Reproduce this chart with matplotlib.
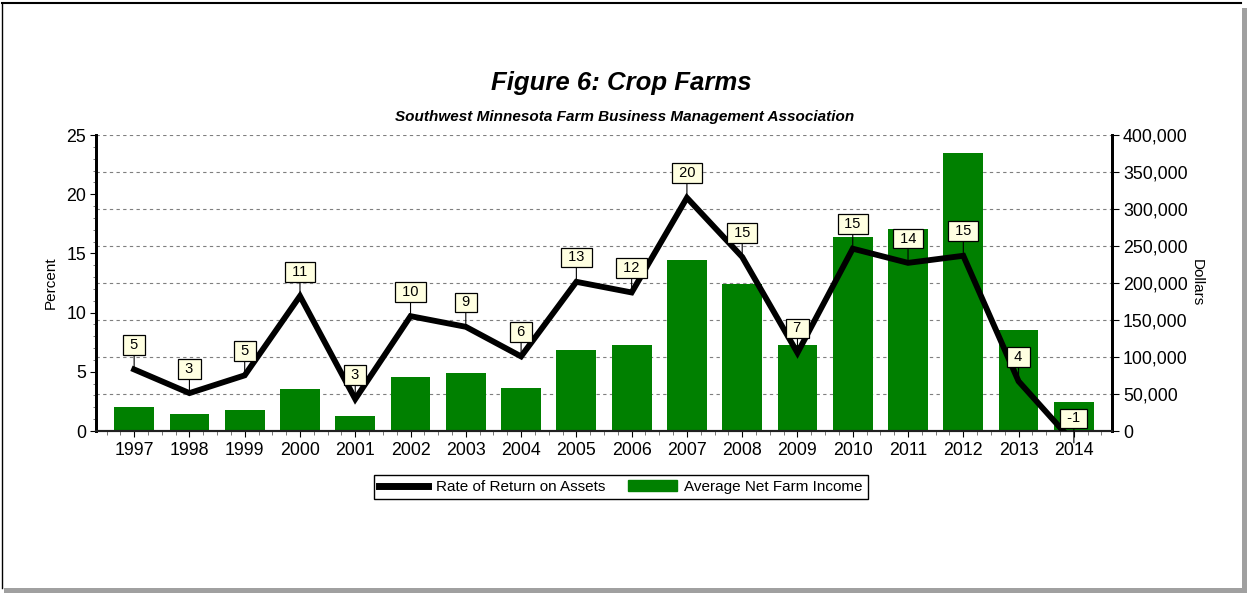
#!/usr/bin/env python3
"""
Crop farms: rate of return on assets vs. average net farm income, 1997-2014.
"""

import matplotlib
matplotlib.use('Agg')
import matplotlib.pyplot as plt
from matplotlib.ticker import MultipleLocator, FuncFormatter
from matplotlib.lines import Line2D
from matplotlib.patches import Patch, Rectangle

years = ['1997', '1998', '1999', '2000', '2001', '2002', '2003', '2004', '2005',
         '2006', '2007', '2008', '2009', '2010', '2011', '2012', '2013', '2014']

# Rate of return on assets (percent)
rate_of_return = [5.2, 3.2, 4.7, 11.4, 2.7, 9.7, 8.8, 6.3, 12.6,
                  11.7, 19.7, 14.7, 6.6, 15.4, 14.2, 14.8, 4.2, -1.0]

# Average net farm income (dollars)
net_income = [32500, 23000, 28500, 56500, 20500, 73000, 78500, 58000, 109500,
              116000, 231000, 198500, 116000, 262000, 273000, 375500, 136500, 39000]

BAR_GREEN = '#008000'

plt.rcParams['font.family'] = ['Liberation Sans', 'DejaVu Sans']

fig = plt.figure(figsize=(12.47, 5.93), dpi=100)
W, H = 1247, 593

# axes box in pixels: x 96..1112, y 135..431
ax = fig.add_axes([96 / W, 1 - 431 / H, (1112 - 96) / W, (431 - 135) / H])
ax2 = ax.twinx()

x = list(range(len(years)))

# bars (dollars) on the right axis
ax2.bar(x, net_income, width=0.72, color=BAR_GREEN, zorder=2)
ax2.set_ylim(0, 400000)
ax2.yaxis.set_major_locator(MultipleLocator(50000))
ax2.yaxis.set_major_formatter(FuncFormatter(lambda v, p: f'{int(v):,}'))
ax2.set_axisbelow(True)
ax2.grid(axis='y', color='#7f7f7f', linestyle=(0, (3, 3)), linewidth=0.8)
ax2.set_ylabel('Dollars', rotation=-90, fontsize=11, va='center', ha='center')
ax2.yaxis.set_label_coords((1197 - 96) / 1016, 0.5)

# line (percent) on the left axis, drawn above the bars
ax.set_zorder(ax2.get_zorder() + 1)
ax.patch.set_visible(False)
ax.plot(x, rate_of_return, color='black', linewidth=4.2, solid_joinstyle='miter',
        zorder=3)
ax.set_ylim(0, 25)
ax.set_xlim(-0.69, len(years) - 1 + 0.69)
ax.yaxis.set_major_locator(MultipleLocator(5))
ax.yaxis.set_minor_locator(MultipleLocator(1))
ax.set_ylabel('Percent', fontsize=11, labelpad=6)

ax.set_xticks(x)
ax.set_xticklabels(years)
ax.xaxis.set_minor_locator(MultipleLocator(0.25))

# value labels
for xi, v in zip(x, rate_of_return):
    ax.annotate(f' {v:.0f} ', xy=(xi, v), xytext=(0, 12.5), textcoords='offset points',
                ha='center', va='bottom', fontsize=10.5, annotation_clip=False,
                bbox=dict(boxstyle='square,pad=0.2', facecolor='#ffffe1',
                          edgecolor='black', linewidth=0.9),
                arrowprops=dict(arrowstyle='-', color='black', linewidth=0.8,
                                shrinkA=0, shrinkB=0),
                zorder=5)

for a in (ax, ax2):
    a.spines['top'].set_visible(False)
    a.spines['left'].set_linewidth(2)
    a.spines['right'].set_linewidth(2)
    a.spines['bottom'].set_linewidth(1.5)
    a.spines['bottom'].set_color('#202020')
    a.tick_params(labelsize=12.8)

ax.tick_params(axis='y', which='major', length=4, width=0.8, pad=3)
ax.tick_params(axis='y', which='minor', length=2.5, width=0.6, color='#606060')
ax.tick_params(axis='x', which='major', length=4, width=0.8, pad=4)
ax.tick_params(axis='x', which='minor', length=3, width=0.6, color='#606060')
ax2.tick_params(axis='y', which='major', length=5, width=0.8, pad=3)

# titles
fig.text(621 / W, 1 - 83 / H, 'Figure 6: Crop Farms', ha='center', va='center',
         fontsize=18.5, fontweight='bold', fontstyle='italic')
fig.text(625 / W, 1 - 117 / H, 'Southwest Minnesota Farm Business Management Association',
         ha='center', va='center', fontsize=11, fontweight='bold', fontstyle='italic')

# legend
handles = [Line2D([0], [0], color='black', linewidth=5),
           Patch(facecolor=BAR_GREEN, edgecolor=BAR_GREEN)]
fig.legend(handles, ['Rate of Return on Assets', 'Average Net Farm Income'],
           loc='center', bbox_to_anchor=(621 / W, 1 - 487 / H), ncol=2,
           fontsize=11, frameon=True, fancybox=False, edgecolor='black',
           framealpha=1, borderpad=0.3, handlelength=3.2, columnspacing=1.5,
           handletextpad=0.5)

# frame around the chart with a grey drop shadow
fig.patches.append(Rectangle((1242 / W, 0), 5 / W, 1 - 8 / H, transform=fig.transFigure,
                             facecolor='#a0a0a0', edgecolor='none'))
fig.patches.append(Rectangle((4 / W, 0), 1 - 4 / W, 5 / H, transform=fig.transFigure,
                             facecolor='#a0a0a0', edgecolor='none'))
fig.lines.append(Line2D([1.5 / W, 1.5 / W], [5 / H, 1 - 3 / H], transform=fig.transFigure,
                        color='black', linewidth=1))
fig.lines.append(Line2D([1.5 / W, 1241 / W], [1 - 3 / H, 1 - 3 / H], transform=fig.transFigure,
                        color='black', linewidth=1.5))

fig.savefig('out.png', dpi=100)
